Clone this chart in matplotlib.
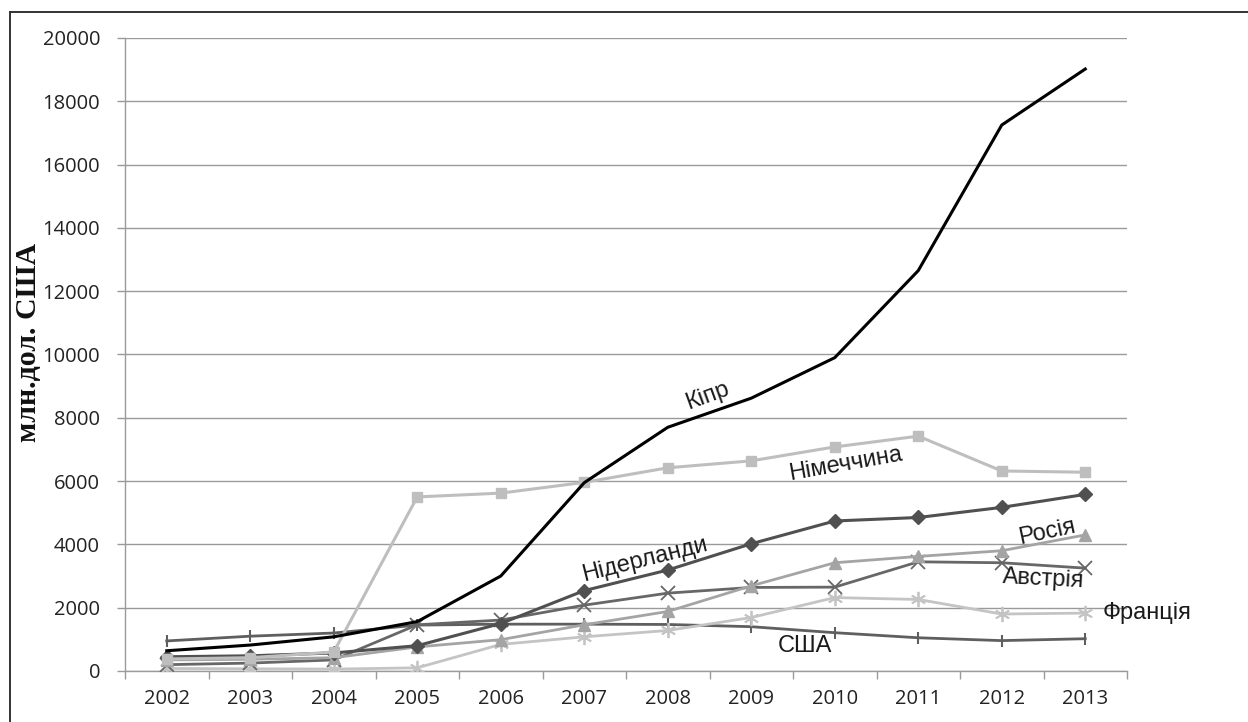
import matplotlib
matplotlib.use("Agg")
import matplotlib.pyplot as plt
from matplotlib.lines import Line2D
from matplotlib.ticker import FixedLocator, NullFormatter

years = ["2002", "2003", "2004", "2005", "2006", "2007", "2008", "2009", "2010", "2011", "2012", "2013"]

cyprus = [640, 820, 1080, 1560, 3000, 5950, 7700, 8620, 9900, 12650, 17250, 19020]
germany = [380, 420, 600, 5500, 5620, 5960, 6420, 6640, 7080, 7420, 6320, 6280]
netherlands = [450, 480, 570, 800, 1500, 2540, 3190, 4020, 4740, 4850, 5170, 5580]
russia = [350, 370, 420, 760, 990, 1460, 1880, 2690, 3420, 3620, 3800, 4300]
austria = [200, 250, 350, 1460, 1610, 2080, 2460, 2640, 2650, 3450, 3420, 3250]
france = [80, 70, 60, 100, 840, 1080, 1280, 1690, 2320, 2260, 1800, 1830]
usa = [950, 1100, 1200, 1450, 1480, 1480, 1470, 1400, 1210, 1050, 960, 1020]

series_names = ["Кіпр", "Німеччина", "Нідерланди", "Росія", "Австрія", "Франція", "США"]

W, H = 1248, 722
fig = plt.figure(figsize=(W / 100, H / 100), dpi=100)
ax = fig.add_axes([125 / W, 1 - 671 / H, (1127 - 125) / W, (671 - 38) / H])

x = list(range(len(years)))

ax.plot(x, usa, color="#5f5f5f", lw=2.0, marker="|", ms=8, mew=1.5, zorder=3)
ax.plot(x, france, color="#c4c4c4", lw=2.0, marker=(6, 2, 0), ms=11, mew=1.3, zorder=3)
ax.plot(x, austria, color="#676767", lw=2.0, marker="x", ms=10, mew=1.3, zorder=3)
ax.plot(x, russia, color="#a4a4a4", lw=2.0, marker="^", ms=8, zorder=3)
ax.plot(x, netherlands, color="#505050", lw=2.2, marker="D", ms=7, zorder=4)
ax.plot(x, germany, color="#bebebe", lw=2.2, marker="s", ms=7, zorder=4)
ax.plot(x, cyprus, color="#000000", lw=2.2, zorder=5)

ax.set_xlim(-0.5, 11.5)
ax.set_ylim(0, 20000)
ax.set_yticks(range(0, 20001, 2000))
ax.set_xticks(x)
ax.set_xticklabels(years)
ax.xaxis.set_minor_locator(FixedLocator([i + 0.5 for i in range(-1, 12)]))
ax.xaxis.set_minor_formatter(NullFormatter())

ax.grid(axis="y", color="#9a9a9a", lw=1.0)
ax.set_axisbelow(True)
for s in ["top", "right"]:
    ax.spines[s].set_visible(False)
ax.spines["left"].set_color("#9a9a9a")
ax.spines["bottom"].set_color("#9a9a9a")
ax.spines["left"].set_linewidth(1.0)
ax.spines["bottom"].set_linewidth(1.0)

tick_font = "Open Sans"
ax.tick_params(axis="y", length=6, width=1, color="#9a9a9a", pad=12,
               labelsize=14.5, labelcolor="#222222")
ax.tick_params(axis="x", which="major", length=0, pad=13, labelsize=14.5, labelcolor="#222222")
ax.tick_params(axis="x", which="minor", length=6, width=1, color="#9a9a9a", direction="out")
for lab in ax.get_xticklabels() + ax.get_yticklabels():
    lab.set_fontfamily(tick_font)

fig.text(29 / W, 1 - 342 / H, "млн.дол. США", rotation=90, ha="center", va="center",
         fontsize=21.5, fontweight="bold", family="Liberation Serif", color="#111111")

lab_kw = dict(fontsize=17, family="Liberation Sans", color="#1a1a1a", ha="center", va="center",
              zorder=6)
ax.text(6.48, 8700, series_names[0], rotation=20, **lab_kw)
ax.text(8.13, 6540, series_names[1], rotation=10, **lab_kw)
ax.text(5.73, 3520, series_names[2], rotation=14, **lab_kw)
ax.text(10.54, 4390, series_names[3], rotation=12, **lab_kw)
ax.text(10.5, 2910, series_names[4], rotation=-3, **lab_kw)
ax.text(11.74, 1830, series_names[5], rotation=0, clip_on=False, **lab_kw)
ax.text(7.64, 800, series_names[6], rotation=0, **lab_kw)

# outer chart frame
fx = 10 / W
fy = 1 - 12 / H
fig.add_artist(Line2D([fx, fx], [0, fy], transform=fig.transFigure, color="#333333", lw=1.4))
fig.add_artist(Line2D([fx, 1], [fy, fy], transform=fig.transFigure, color="#333333", lw=1.4))

fig.savefig("out.png", dpi=100)
